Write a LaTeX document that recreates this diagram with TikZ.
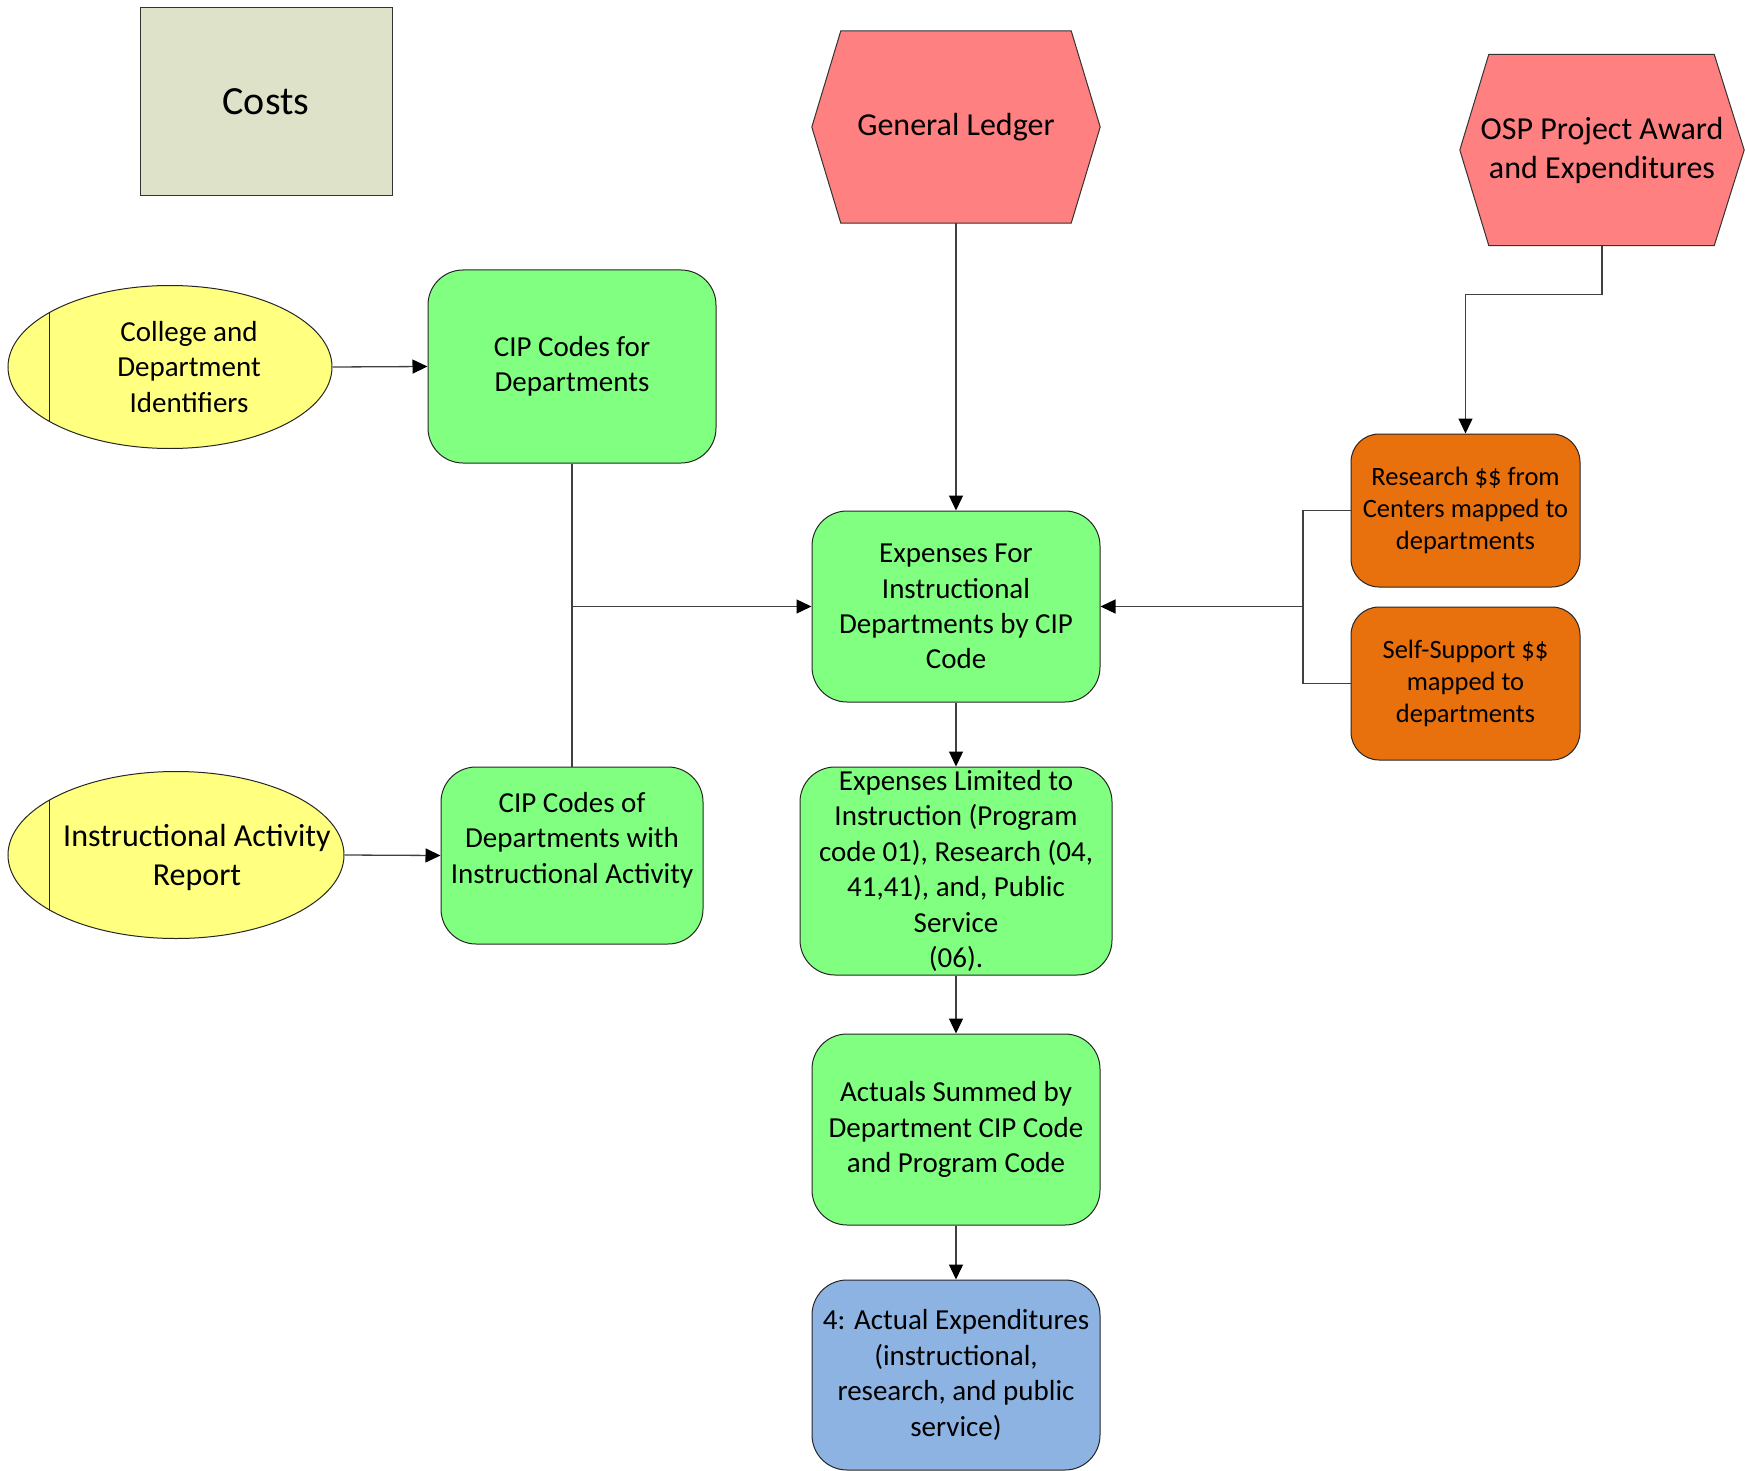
\documentclass[tikz,border=0pt]{standalone}
\usepackage{fontspec}
\setmainfont{Carlito}
\usetikzlibrary{arrows.meta,backgrounds,shapes.geometric}

\definecolor{boxgreen}{RGB}{128,255,128}
\definecolor{boxred}{RGB}{255,128,128}
\definecolor{boxyellow}{RGB}{255,255,128}
\definecolor{boxblue}{RGB}{141,179,226}
\definecolor{boxorange}{RGB}{232,113,14}
\definecolor{boxgrey}{RGB}{221,226,201}

\tikzset{
  flow/.style={draw=black!75, line width=1.3pt, -{Triangle[length=15pt,width=14pt,black]}},
  link/.style={draw=black!75, line width=1.3pt},
  greenbox/.style={draw=black!85, line width=1pt, fill=boxgreen, rounded corners=35pt,
    align=center, inner sep=0pt, font=\fontsize{29}{35.4}\selectfont},
  orangebox/.style={greenbox, fill=boxorange, rounded corners=28pt,
    font=\fontsize{26.5}{32.3}\selectfont},
  hexbox/.style={align=center, inner sep=0pt, font=\fontsize{32}{39}\selectfont},
  source/.style={ellipse, draw=black!85, line width=1pt, fill=boxyellow, inner sep=0pt,
    path picture={\draw[line width=1pt]
      ([xshift=41pt]path picture bounding box.south west) --
      ([xshift=41pt]path picture bounding box.north west);}},
}

\begin{document}
\begin{tikzpicture}[x=1pt,y=-1pt]
\useasboundingbox (0,0) rectangle (1745,1471);

% legend box
\node[draw=black!80, line width=1pt, fill=boxgrey, minimum width=252pt, minimum height=188pt,
  font=\fontsize{40}{48}\selectfont] (costs) at (266,102) {Costs};

% sources
\node[hexbox, minimum width=288pt, minimum height=192pt] (gl) at (956,127) {General Ledger};
\node[hexbox, minimum width=284pt, minimum height=191pt] (osp) at (1602,150)
  {OSP Project Award\\and Expenditures};
\begin{scope}[on background layer]
\draw[draw=black!80, line width=1pt, fill=boxred] ([xshift=29pt]gl.north west) -- ([xshift=-29pt]gl.north east)
  -- (gl.east) -- ([xshift=-29pt]gl.south east) -- ([xshift=29pt]gl.south west) -- (gl.west) -- cycle;
\draw[draw=black!80, line width=1pt, fill=boxred] ([xshift=29pt]osp.north west) -- ([xshift=-30pt]osp.north east)
  -- (osp.east) -- ([xshift=-30pt]osp.south east) -- ([xshift=29pt]osp.south west) -- (osp.west) -- cycle;
\end{scope}

\node[source, minimum width=324pt, minimum height=163pt,
  label={[xshift=19pt, align=center, font=\fontsize{29}{35.4}\selectfont]center:College and\\Department\\Identifiers}]
  (coll) at (170,367) {};
\node[source, minimum width=336pt, minimum height=167pt,
  label={[xshift=21pt, yshift=-2pt, align=center, font=\fontsize{32}{39}\selectfont]center:Instructional Activity\\Report}]
  (iar) at (176,855) {};

% process boxes
\node[greenbox, minimum width=288pt, minimum height=193pt] (cipd) at (572,366.5) {CIP Codes for\\Departments};
\node[greenbox, minimum width=262pt, minimum height=177pt] (cipa) at (572,855.5)
  {CIP Codes of\\Departments with\\Instructional Activity\\~};
\node[greenbox, minimum width=288pt, minimum height=191pt] (efi) at (956,606.5)
  {Expenses For\\Instructional\\Departments by CIP\\Code};
\node[greenbox, minimum width=312pt, minimum height=208pt] (elim) at (956,871)
  {Expenses Limited to\\Instruction (Program\\code 01), Research (04,\\41,41), and, Public\\Service\\(06).};
\node[greenbox, minimum width=288pt, minimum height=191pt] (asum) at (956,1129.5)
  {Actuals Summed by\\Department CIP Code\\and Program Code};
\node[greenbox, fill=boxblue, minimum width=288pt, minimum height=190pt] (aexp) at (956,1375)
  {4: Actual Expenditures\\(instructional,\\research, and public\\service)};

\node[orangebox, minimum width=229pt, minimum height=153pt] (res) at (1465.5,510.5)
  {Research \$\$ from\\Centers mapped to\\departments};
\node[orangebox, minimum width=229pt, minimum height=153pt] (self) at (1465.5,683.5)
  {Self-Support \$\$\\mapped to\\departments};

% connectors
\draw[flow] (coll.east) -- (cipd.west);
\draw[flow] (iar.east) -- (cipa.west);
\draw[link] (cipd.south) -- (cipa.north);
\draw[flow] (cipd.south |- efi.west) -- (efi.west);
\draw[flow] (gl.south) -- (efi.north);
\draw[flow] (osp.south) -- ++(0,49) -| (res.north);
\coordinate (join) at (1303,606.5);
\draw[link] (res.west) -| (join) |- (self.west);
\draw[flow] (join) -- (efi.east);
\draw[flow] (efi.south) -- (elim.north);
\draw[flow] (elim.south) -- (asum.north);
\draw[flow] (asum.south) -- (aexp.north);

\end{tikzpicture}
\end{document}
